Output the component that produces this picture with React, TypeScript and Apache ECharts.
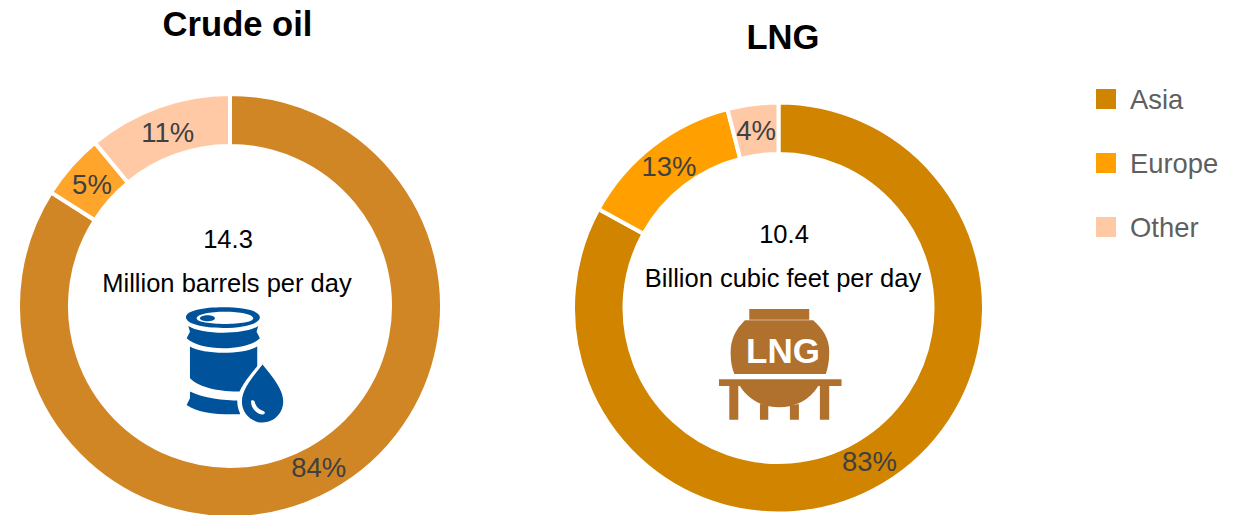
import React, { useEffect, useRef } from "react";
import * as echarts from "echarts";

const regions = ["Asia", "Europe", "Other"];
const crudeValues = [84, 5, 11];
const lngValues = [83, 13, 4];
const crudeColors = ["#D18625", "#FFA52B", "#FFC9A6"];
const lngColors = ["#D08400", "#FFA000", "#FFC9A6"];
const legendColors = ["#D08400", "#FFA000", "#FFC9A6"];

const FONT = '"Liberation Sans", Arial, sans-serif';

const barrelBlue =
  "M78 82 C78 62 130 52 190 52 C250 52 300 62 300 82 C300 102 250 114 190 114 C130 114 78 102 78 82 Z " +
  "M85 108 C125 135 255 135 295 108 L290 125 L300 145 C260 185 120 185 80 145 L90 125 Z " +
  "M90 170 C130 195 250 195 292 170 L292 270 L245 305 C180 305 120 295 90 265 L80 280 L90 265 Z " +
  "M90 305 C130 325 190 332 240 332 L240 373 C170 375 110 368 80 345 L90 325 Z";
const barrelLid = "M110 85 C110 72 150 65 195 65 C240 65 280 72 280 85 C280 96 240 102 195 102 C150 102 110 96 110 85 Z";
const barrelHole = "M120 85 C120 79 132 76 143 76 C154 76 165 79 165 85 C165 91 154 94 143 94 C132 94 120 91 120 85 Z";
const dropHalo = "M308 208 C330 240 384 290 384 335 C384 378 350 412 308 412 C266 412 232 378 232 335 C232 290 286 240 308 208 Z";
const dropBlue = "M308 224 C328 250 370 295 370 335 C370 370 342 398 308 398 C274 398 246 370 246 335 C246 295 288 250 308 224 Z";
const dropShine = "M274 332 C280 330 284 332 285 338 C288 350 298 360 312 364 C318 368 314 374 306 374 C288 372 270 350 274 332 Z";

const lngTank =
  "M148 57 L328 57 L328 89 L148 89 Z " +
  "M135 91 L340 91 C372 120 390 150 388 190 C388 215 384 235 378 252 L103 252 C96 235 92 215 92 190 C92 150 105 120 135 91 Z " +
  "M57 268 L425 268 L425 288 L57 288 Z " +
  "M88 288 L115 288 L115 390 L88 390 Z M360 288 L388 288 L388 390 L360 390 Z " +
  "M180 342 L205 348 L205 390 L180 390 Z M270 348 L297 342 L297 390 L270 390 Z " +
  "M120 288 L355 288 C330 330 285 352 237 352 C190 352 145 330 120 288 Z";

echarts.graphic.registerShape("barrelBlue", echarts.graphic.extendPath(barrelBlue, {}) as any);
echarts.graphic.registerShape("barrelLid", echarts.graphic.extendPath(barrelLid, {}) as any);
echarts.graphic.registerShape("barrelHole", echarts.graphic.extendPath(barrelHole, {}) as any);
echarts.graphic.registerShape("dropHalo", echarts.graphic.extendPath(dropHalo, {}) as any);
echarts.graphic.registerShape("dropBlue", echarts.graphic.extendPath(dropBlue, {}) as any);
echarts.graphic.registerShape("dropShine", echarts.graphic.extendPath(dropShine, {}) as any);
echarts.graphic.registerShape("lngTank", echarts.graphic.extendPath(lngTank, {}) as any);

function pie(name: string, values: number[], colors: string[], center: number[], radius: number[], inwardShift: number) {
  return {
    type: "pie",
    name,
    center,
    radius,
    startAngle: 90,
    clockwise: true,
    silent: true,
    data: regions.map((r, i) => ({ name: r, value: values[i], itemStyle: { color: colors[i] } })),
    itemStyle: { borderColor: "#fff", borderWidth: 4 },
    label: {
      show: true,
      position: "inside",
      formatter: "{c}%",
      fontFamily: FONT,
      fontSize: 27.5,
      color: "#404040",
    },
    labelLine: { show: false },
    labelLayout: (params: any) => {
      const rect = params.labelRect;
      const dx = rect.x + rect.width / 2 - center[0];
      const dy = rect.y + rect.height / 2 - center[1];
      const len = Math.sqrt(dx * dx + dy * dy) || 1;
      return { dx: (-dx / len) * inwardShift, dy: (-dy / len) * inwardShift };
    },
    emphasis: { disabled: true },
  };
}

function centerText(text: string, x: number, y: number) {
  return {
    type: "text",
    x,
    y,
    style: { text, fontFamily: FONT, fontSize: 25.5, fill: "#000", textAlign: "center", textVerticalAlign: "middle" },
  };
}

function icon(shape: string, fill: string, ox: number, oy: number) {
  return { type: shape, x: ox, y: oy, scaleX: 1 / 3, scaleY: 1 / 3, style: { fill } };
}

export default function App() {
  const ref = useRef<HTMLDivElement>(null);
  useEffect(() => {
    const chart = echarts.init(ref.current!, undefined, { renderer: "svg" });
    chart.setOption({
      animation: false,
      backgroundColor: "#fff",
      title: [
        { text: "Crude oil", left: 232.5, top: 1.5, textAlign: "center", textStyle: { fontFamily: FONT, fontSize: 34.6, fontWeight: "bold", color: "#000" } },
        { text: "LNG", left: 778, top: 14.5, textAlign: "center", textStyle: { fontFamily: FONT, fontSize: 34.6, fontWeight: "bold", color: "#000" } },
      ],
      legend: {
        orient: "vertical",
        left: 1096,
        top: 79,
        padding: 0,
        icon: "rect",
        itemWidth: 20,
        itemHeight: 20,
        itemGap: 24,
        itemStyle: { borderWidth: 0 },
        align: "left",
        selectedMode: false,
        textStyle: { fontFamily: FONT, fontSize: 27.4, color: "#5F5F5F", padding: [0, 0, 12, 9], lineHeight: 28 },
        data: regions.map((r, i) => ({ name: r, itemStyle: { color: legendColors[i], borderWidth: 0 } })),
      },
      series: [
        pie("Crude oil", crudeValues, crudeColors, [230, 306], [160, 212], 5),
        pie("LNG", lngValues, lngColors, [778.5, 308], [154, 205.5], 4),
      ],
      graphic: [
        centerText("14.3", 228, 239),
        centerText("Million barrels per day", 227, 283),
        centerText("10.4", 784, 234),
        centerText("Billion cubic feet per day", 783, 278),
        icon("barrelBlue", "#00529B", 160, 290),
        icon("barrelLid", "#fff", 160, 290),
        icon("barrelHole", "#00529B", 160, 290),
        icon("dropHalo", "#fff", 160, 290),
        icon("dropBlue", "#00529B", 160, 290),
        icon("dropShine", "#fff", 160, 290),
        icon("lngTank", "#B0702E", 700, 290),
        {
          type: "text",
          x: 783,
          y: 350,
          style: { text: "LNG", fontFamily: FONT, fontSize: 35, fontWeight: "bold", fill: "#fff", textAlign: "center", textVerticalAlign: "middle" },
        },
      ],
    });
    return () => chart.dispose();
  }, []);
  return <div ref={ref} style={{ position: "absolute", left: 0, top: 0, width: 1239, height: 515 }} />;
}
